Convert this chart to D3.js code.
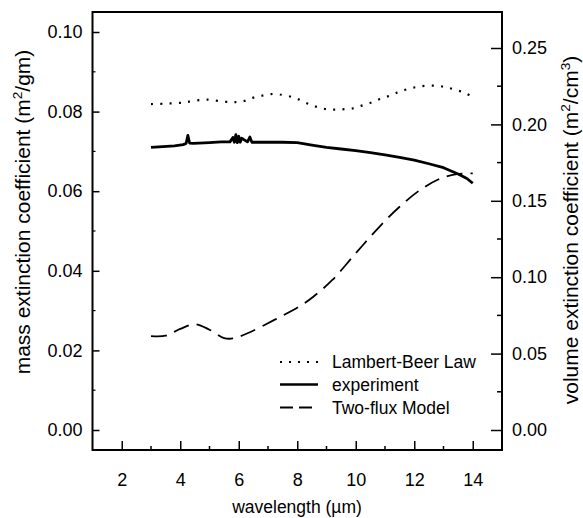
<!DOCTYPE html>
<html><head><meta charset="utf-8">
<script src="https://cdn.jsdelivr.net/npm/d3@7"></script>
<style>
body{margin:0;background:#fff;}
svg{display:block;}
text{font-family:Arial,"Liberation Sans",Helvetica,sans-serif;fill:#000;}
</style></head>
<body>
<svg id="c" width="583" height="518"></svg>
<script>
// ---- data ----
const xTicks = [2, 4, 6, 8, 10, 12, 14];
const leftTicks = [0.00, 0.02, 0.04, 0.06, 0.08, 0.10];
const rightTicks = [0.00, 0.05, 0.10, 0.15, 0.20, 0.25];

const lambertX = [3.0, 3.5, 4.0, 4.3, 4.9, 5.5, 5.9, 6.2, 6.5, 6.8, 7.1, 7.4, 7.8, 8.1, 8.4, 8.7, 9.0, 9.3, 9.6, 9.9, 10.2, 10.55, 10.85, 11.2, 11.5, 11.8, 12.1, 12.4, 12.75, 13.05, 13.35, 13.7, 14.0];
const lambertY = [0.0819, 0.0820, 0.0822, 0.0825, 0.0830, 0.0825, 0.0824, 0.0827, 0.0835, 0.0840, 0.0844, 0.0843, 0.0837, 0.0829, 0.0819, 0.0811, 0.0806, 0.0805, 0.0806, 0.0808, 0.0815, 0.0823, 0.0832, 0.0841, 0.0850, 0.0857, 0.0862, 0.0865, 0.0865, 0.0862, 0.0856, 0.0848, 0.0837];

const expX = [3.0, 3.4, 3.8, 4.1, 4.2, 4.26, 4.32, 4.45, 5.0, 5.4, 5.7, 5.8, 5.85, 5.9, 5.95, 6.0, 6.05, 6.1, 6.3, 6.38, 6.45, 6.6, 7.0, 7.5, 8.0, 8.5, 9.0, 9.5, 10.0, 10.5, 11.0, 11.5, 12.0, 12.5, 13.0, 13.5, 13.8, 14.0];
const expY = [0.0710, 0.0712, 0.0714, 0.0717, 0.0720, 0.0740, 0.0721, 0.0720, 0.0722, 0.0724, 0.0724, 0.0735, 0.0723, 0.0742, 0.0722, 0.0738, 0.0723, 0.0733, 0.0724, 0.0736, 0.0723, 0.0723, 0.0723, 0.0723, 0.0722, 0.0716, 0.0710, 0.0706, 0.0702, 0.0697, 0.0691, 0.0685, 0.0678, 0.0669, 0.0659, 0.0643, 0.0632, 0.0620];

const twoFluxX = [3.0, 3.5, 4.0, 4.5, 5.0, 5.5, 5.8, 6.3, 7.2, 8.1, 8.55, 9.2, 10.0, 10.8, 11.5, 12.2, 12.9, 13.45, 14.0];
const twoFluxY = [0.0236, 0.0237, 0.0254, 0.0266, 0.0252, 0.0231, 0.0230, 0.0243, 0.0276, 0.0312, 0.0335, 0.0377, 0.0444, 0.0510, 0.0561, 0.0603, 0.0632, 0.0643, 0.0645];

const legendLabels = ["Lambert-Beer Law", "experiment", "Two-flux Model"];

// ---- layout ----
const L = 92.5, R = 502, T = 12, B = 450;
const FS = 17.5, TFS = 21;
const svg = d3.select("#c");

const x = d3.scaleLinear().domain([1, 15]).range([L, R]);
const y = d3.scaleLinear().domain([-0.005025, 0.105025]).range([B, T]);
const y2 = d3.scaleLinear().domain([-0.013089, 0.273560]).range([B, T]);

// axes
const gx = svg.append("g").attr("transform", `translate(0,${B})`)
  .call(d3.axisBottom(x).tickValues(xTicks).tickFormat(d3.format("d")).tickSize(-9).tickPadding(23));
const gy = svg.append("g").attr("transform", `translate(${L},0)`)
  .call(d3.axisLeft(y).tickValues(leftTicks).tickFormat(d3.format(".2f")).tickSize(-7).tickPadding(10));
const gy2 = svg.append("g").attr("transform", `translate(${R},0)`)
  .call(d3.axisRight(y2).tickValues(rightTicks).tickFormat(d3.format(".2f")).tickSize(-11).tickPadding(10));
[gx, gy, gy2].forEach(g => {
  g.select(".domain").remove();
  g.selectAll(".tick line").attr("stroke", "#000").attr("stroke-width", 1.5);
  g.selectAll(".tick text").attr("font-size", 18).attr("font-family", "Arial, 'Liberation Sans', sans-serif");
});

// minor ticks
const minorX = d3.range(3, 15, 2);
svg.append("g").selectAll("line").data(minorX).join("line")
  .attr("x1", d => x(d)).attr("x2", d => x(d)).attr("y1", B).attr("y2", B - 4)
  .attr("stroke", "#000").attr("stroke-width", 1.5);
const minorR = [0.025, 0.075, 0.125, 0.175, 0.225];
svg.append("g").selectAll("line").data(minorR).join("line")
  .attr("x1", R).attr("x2", R - 5).attr("y1", d => y2(d)).attr("y2", d => y2(d))
  .attr("stroke", "#000").attr("stroke-width", 1.5);
const minorL = [0.01, 0.03, 0.05, 0.07, 0.09];
svg.append("g").selectAll("line").data(minorL).join("line")
  .attr("x1", L).attr("x2", L + 3).attr("y1", d => y(d)).attr("y2", d => y(d))
  .attr("stroke", "#000").attr("stroke-width", 1.2);

// frame
svg.append("rect").attr("x", L).attr("y", T).attr("width", R - L).attr("height", B - T)
  .attr("fill", "none").attr("stroke", "#000").attr("stroke-width", 2);

// lines
const line = d3.line().x(d => x(d[0])).y(d => y(d[1]));
const lineSmooth = d3.line().x(d => x(d[0])).y(d => y(d[1])).curve(d3.curveCatmullRom);
svg.append("path").datum(d3.zip(lambertX, lambertY)).attr("d", lineSmooth)
  .attr("fill", "none").attr("stroke", "#000").attr("stroke-width", 2.2)
  .attr("stroke-dasharray", "2,7.3").attr("stroke-linecap", "butt");
svg.append("path").datum(d3.zip(expX, expY)).attr("d", line)
  .attr("fill", "none").attr("stroke", "#000").attr("stroke-width", 2.8).attr("stroke-linejoin", "round");
svg.append("path").datum(d3.zip(twoFluxX, twoFluxY)).attr("d", lineSmooth)
  .attr("fill", "none").attr("stroke", "#000").attr("stroke-width", 1.8)
  .attr("stroke-dasharray", "16,8");

// legend
const legY = [362, 384.5, 407.5];
const dashes = ["2,7", null, "13,6"];
const widths = [2.2, 2.6, 1.8];
legendLabels.forEach((lab, i) => {
  const ln = svg.append("line").attr("x1", 280).attr("x2", 318).attr("y1", legY[i]).attr("y2", legY[i])
    .attr("stroke", "#000").attr("stroke-width", widths[i]);
  if (dashes[i]) ln.attr("stroke-dasharray", dashes[i]);
  svg.append("text").attr("x", 332).attr("y", legY[i]).attr("dy", "0.35em")
    .attr("font-size", FS).text(lab);
});

// axis titles
svg.append("text").attr("x", 297).attr("y", 513).attr("text-anchor", "middle").attr("font-size", FS)
  .text("wavelength (\u00b5m)");
const lt = svg.append("text").attr("transform", "translate(30,212) rotate(-90)")
  .attr("text-anchor", "middle").attr("font-size", TFS);
lt.append("tspan").text("mass extinction coefficient (m");
lt.append("tspan").attr("font-size", TFS * 0.65).attr("dy", "-0.6em").text("2");
lt.append("tspan").attr("dy", "0.4em").text("/gm)");
const rt = svg.append("text").attr("transform", "translate(578,230) rotate(-90)")
  .attr("text-anchor", "middle").attr("font-size", TFS);
rt.append("tspan").text("volume extinction coefficient (m");
rt.append("tspan").attr("font-size", TFS * 0.65).attr("dy", "-0.6em").text("2");
rt.append("tspan").attr("dy", "0.4em").text("/cm");
rt.append("tspan").attr("font-size", TFS * 0.65).attr("dy", "-0.6em").text("3");
rt.append("tspan").attr("dy", "0.4em").text(")");
</script>
</body></html>
